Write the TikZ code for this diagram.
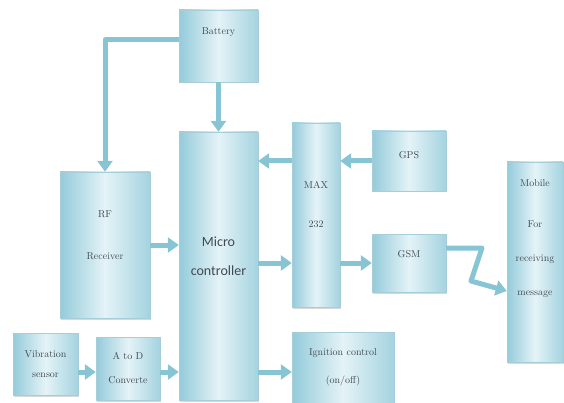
\documentclass[tikz,border=0pt]{standalone}
\usepackage{fontspec}
\usepackage{tikz}
\usetikzlibrary{arrows.meta,shadows}

\newfontfamily\mcufont{Carlito}
\definecolor{boxedge}{RGB}{148,203,218}
\definecolor{boxmid}{RGB}{228,243,247}
\definecolor{boxline}{RGB}{166,205,216}
\definecolor{pipe}{RGB}{136,197,212}
\definecolor{ink}{RGB}{66,74,84}

\tikzset{
  blk/.style={draw=boxline, left color=boxedge, right color=boxedge!85, middle color=boxmid,
    text=ink, font=\fontsize{10}{12}\selectfont, align=center, inner sep=0pt,
    drop shadow={shadow xshift=1pt, shadow yshift=-1.5pt, fill=black!30}},
  link/.style={draw=pipe, line width=5pt, line join=round,
    -{Triangle[width=15pt,length=11pt]}}
}

\begin{document}
\begin{tikzpicture}[x=1pt,y=-1pt]
	\useasboundingbox (0,0) rectangle (564,403);

	\node[blk, minimum width=79pt, minimum height=72pt, text depth=30pt] (bat) at (218.5,46) {Battery};
	
	\node[blk, minimum width=79pt, minimum height=268pt, text depth=19pt, font=\mcufont\fontsize{14}{17}\selectfont] (mcu) at (218.5,266) {Micro\\[12pt]controller};
	
	\node[blk, minimum width=90pt, minimum height=146pt, text depth=20pt] (rf) at (105,245) {RF\\[30pt]Receiver};
	
	\node[blk, minimum width=65pt, minimum height=62pt] (vib) at (45.5,364) {Vibration\\[8pt]sensor};
	\node[blk, minimum width=64pt, minimum height=63pt] (adc) at (128,368.5) {A to D\\[12pt]Converte};
	
	\node[blk, minimum width=48pt, minimum height=184pt, text depth=22pt] (max) at (316,215) {MAX\\[27pt]232};
	
	\node[blk, minimum width=74pt, minimum height=60pt, text depth=12pt] (gps) at (409,161) {GPS};
	\node[blk, minimum width=74pt, minimum height=58pt, text depth=18pt] (gsm) at (409,263) {GSM};
	
	\node[blk, minimum width=56pt, minimum height=200pt, text depth=48pt] (mob) at (535,262) {Mobile\\[29pt]For\\[22pt]receiving\\[22pt]message};
	
	\node[blk, minimum width=102pt, minimum height=71pt] (ign) at (343,367.5) {Ignition control\\[16pt](on/off)};
	
	\coordinate (low) at (0,372);
	\coordinate (z1) at (482,248);
	\coordinate (z2) at (471,281);
	
	\draw[link] ([yshift=6pt]bat.west) -| (rf.north);
	\draw[link] (bat.south) -- (mcu.north);
	\draw[link] (gps.west) -- (gps.west -| max.east);
	\draw[link] (max.west |- gps.west) -- (mcu.east |- gps.west);
	\draw[link] (rf.east) -- (rf.east -| mcu.west);
	\draw[link] (mcu.east |- gsm.west) -- (max.west |- gsm.west);
	\draw[link] (max.east |- gsm.west) -- (gsm.west);
	\draw[link] ([yshift=15pt]gsm.east) -- (z1) -- (z2) -- ([yshift=-29pt]mob.west);
	\draw[link] (vib.east |- low) -- (adc.west |- low);
	\draw[link] (adc.east |- low) -- (mcu.west |- low);
	\draw[link] (mcu.east |- low) -- (ign.west |- low);
	
\end{tikzpicture}
\end{document}
